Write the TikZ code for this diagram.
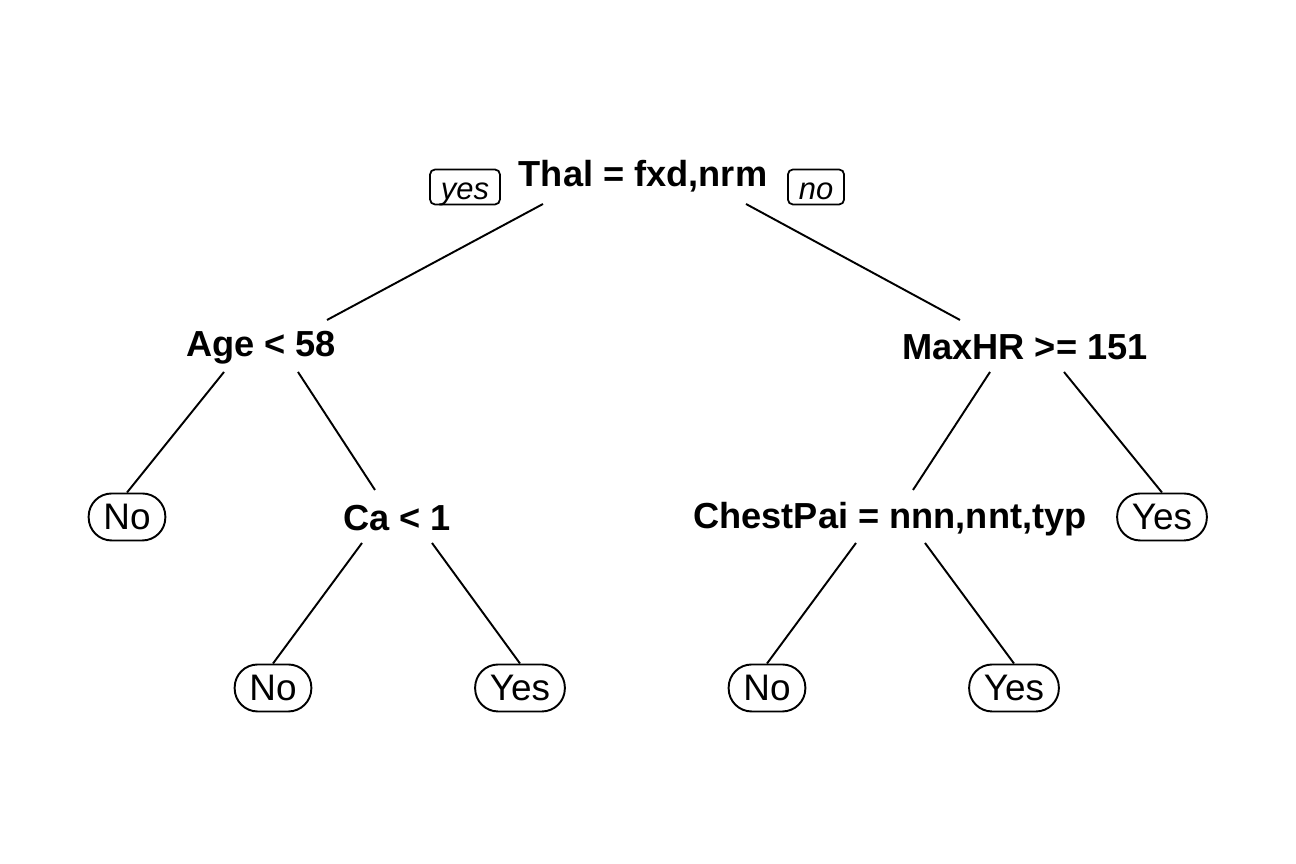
\documentclass[tikz,border=0pt]{standalone}
\usepackage{fontspec}
\setmainfont{Liberation Sans}
\usepackage{tikz}
\usetikzlibrary{positioning, shapes}
\tikzstyle{split} = [font=\fontsize{10.3}{12}\selectfont\bfseries, inner sep=0pt, text height=0.72em, text depth=0pt]
\tikzstyle{leaf} = [draw, rounded corners=0.23cm, font=\fontsize{10.5}{12}\selectfont, inner xsep=4.2pt, inner ysep=0pt, minimum height=0.47cm, text height=0.72em, text depth=0pt, line width=0.55pt]
\tikzstyle{answer} = [draw, rounded corners=0.05cm, font=\fontsize{8.8}{10}\selectfont\itshape, inner xsep=3.1pt, inner ysep=0pt, minimum height=0.35cm, text height=0.72em, text depth=0pt, line width=0.5pt]
\tikzstyle{branch} = [line width=0.55pt]

\begin{document}
\begin{tikzpicture}
                \useasboundingbox (0,0) rectangle (12.96,8.64);
                % splits
                \node[split] (thal) at (6.43,6.90) {Thal = fxd,nrm};
                \node[split] (age) at (2.61,5.20) {Age < 58};
                \node[split] (maxhr) at (10.25,5.17) {MaxHR >= 151};
                \node[split] (ca) at (3.97,3.46) {Ca < 1};
                \node[split] (chest) at (8.90,3.48) {ChestPai = nnn,nnt,typ};
                % yes / no
                \node[answer] (yes) at (4.65,6.77) {yes};
                \node[answer] (no) at (8.16,6.77) {no};
                % leaves
                \node[leaf] (noA) at (1.27,3.47) {No};
                \node[leaf] (yesB) at (11.62,3.47) {Yes};
                \node[leaf] (noC) at (2.73,1.76) {No};
                \node[leaf] (yesD) at (5.20,1.76) {Yes};
                \node[leaf] (noE) at (7.67,1.76) {No};
                \node[leaf] (yesF) at (10.14,1.76) {Yes};
                % branches
                \draw[branch] ([shift={(-1.00,-0.30)}]thal.center) -- ([shift={(0.66,0.24)}]age.center);
                \draw[branch] ([shift={(1.03,-0.30)}]thal.center) -- ([shift={(-0.65,0.27)}]maxhr.center);
                \draw[branch] ([shift={(-0.37,-0.28)}]age.center) -- (noA.north);
                \draw[branch] ([shift={(0.37,-0.28)}]age.center) -- ([shift={(-0.22,0.28)}]ca.center);
                \draw[branch] ([shift={(-0.35,-0.25)}]maxhr.center) -- ([shift={(0.23,0.26)}]chest.center);
                \draw[branch] ([shift={(0.39,-0.25)}]maxhr.center) -- (yesB.north);
                \draw[branch] ([shift={(-0.35,-0.25)}]ca.center) -- (noC.north);
                \draw[branch] ([shift={(0.35,-0.25)}]ca.center) -- (yesD.north);
                \draw[branch] ([shift={(-0.34,-0.27)}]chest.center) -- (noE.north);
                \draw[branch] ([shift={(0.35,-0.27)}]chest.center) -- (yesF.north);
              \end{tikzpicture}
\end{document}
